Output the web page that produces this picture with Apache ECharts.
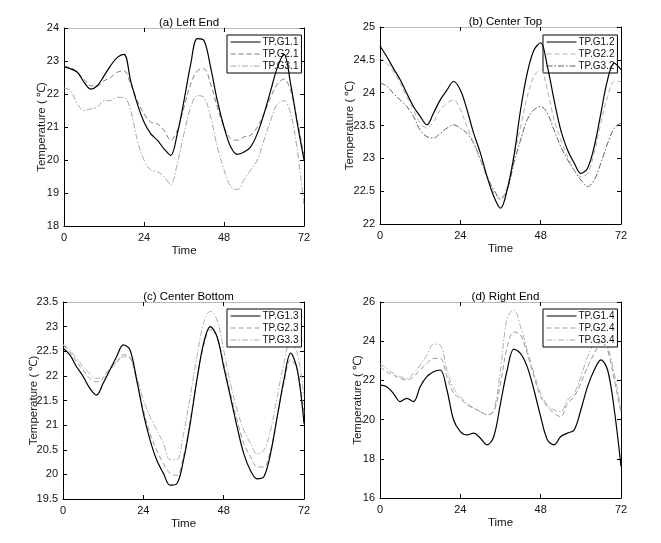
<!DOCTYPE html>
<html><head><meta charset="utf-8">
<script src="https://cdn.jsdelivr.net/npm/echarts@6/dist/echarts.min.js"></script>
<style>html,body{margin:0;padding:0;background:#fff}#c{width:661px;height:543px}</style>
</head><body><div id="c"></div><script>
// Time axis (hours)
const hours = [0,2,4,6,8,10,12,14,16,18,20,22,24,26,28,30,32,34,36,38,40,42,44,46,48,50,52,54,56,58,60,62,64,66,68,70,72];
const timeTicks = [0,24,48,72];

// (a) Left End
const tpG1_1 = [22.83,22.76,22.66,22.36,22.15,22.25,22.55,22.86,23.11,23.2,22.4,21.7,21.15,20.8,20.6,20.34,20.14,20.8,21.8,22.9,23.68,23.62,22.8,21.8,21.0,20.4,20.17,20.24,20.4,20.8,21.4,22.1,22.8,23.2,22.3,21.1,20.0];
const tpG2_1 = [22.83,22.8,22.66,22.45,22.25,22.25,22.4,22.5,22.66,22.7,22.3,21.8,21.4,21.15,21.1,20.9,20.6,20.9,21.6,22.3,22.7,22.76,22.3,21.6,21.0,20.65,20.6,20.7,20.75,21.0,21.4,21.9,22.3,22.45,22.1,21.2,20.1];
const tpG3_1 = [22.18,22.1,21.7,21.5,21.55,21.6,21.8,21.8,21.9,21.9,21.5,20.6,20.0,19.7,19.65,19.5,19.25,19.9,20.8,21.6,21.95,21.9,21.3,20.4,19.7,19.2,19.1,19.4,19.7,20.0,20.6,21.2,21.7,21.8,21.4,20.3,18.6];

// (b) Center Top
const tpG1_2 = [24.71,24.55,24.37,24.2,23.99,23.79,23.64,23.51,23.69,23.89,24.04,24.17,24.04,23.74,23.38,23.08,22.72,22.42,22.24,22.52,23.03,23.74,24.3,24.65,24.76,24.4,23.89,23.43,23.13,22.93,22.77,22.85,23.18,23.69,24.2,24.45,24.35];
const tpG2_2 = [24.53,24.45,24.32,24.15,23.94,23.74,23.54,23.46,23.56,23.74,23.84,23.89,23.74,23.48,23.23,22.98,22.72,22.47,22.37,22.57,23.03,23.48,23.94,24.25,24.35,24.04,23.59,23.28,23.03,22.82,22.72,22.77,23.08,23.54,23.94,24.17,24.17];
const tpG3_2 = [24.15,24.1,23.99,23.89,23.79,23.64,23.43,23.33,23.31,23.38,23.46,23.51,23.46,23.38,23.23,22.98,22.72,22.52,22.39,22.52,22.93,23.28,23.59,23.74,23.79,23.69,23.43,23.18,22.98,22.82,22.67,22.57,22.67,22.93,23.23,23.46,23.54];

// (c) Center Bottom
const tpG1_3 = [22.56,22.43,22.19,21.99,21.75,21.61,21.85,22.12,22.39,22.63,22.53,21.92,21.24,20.7,20.29,20.02,19.78,19.81,20.29,21.03,21.92,22.66,23.0,22.8,22.19,21.58,20.97,20.42,20.08,19.91,19.95,20.42,21.17,21.92,22.46,22.12,21.03];
const tpG2_3 = [22.63,22.49,22.29,22.12,21.95,21.88,21.95,22.12,22.26,22.43,22.38,21.92,21.31,20.83,20.49,20.22,20.02,19.98,20.36,21.1,21.92,22.6,22.94,22.8,22.26,21.65,21.1,20.63,20.36,20.15,20.15,20.49,21.17,21.85,22.33,22.12,21.24];
const tpG3_3 = [22.63,22.53,22.36,22.19,22.05,21.95,21.99,22.16,22.29,22.39,22.36,21.99,21.51,21.17,20.9,20.63,20.3,20.3,20.83,21.58,22.39,23.07,23.31,23.14,22.53,21.85,21.31,20.9,20.63,20.42,20.49,20.9,21.58,22.26,22.7,22.46,21.58];

// (d) Right End
const tpG1_4 = [21.76,21.68,21.34,20.92,21.08,20.92,21.68,22.19,22.44,22.53,21.51,19.98,19.39,19.22,19.31,19.05,18.71,19.14,20.83,22.53,23.6,23.37,22.69,21.51,20.15,18.97,18.71,19.14,19.31,19.47,20.49,21.68,22.53,23.05,22.53,20.49,17.61];
const tpG2_4 = [22.69,22.44,22.27,22.1,22.02,22.19,22.53,22.86,23.12,23.12,22.19,21.34,21.08,20.75,20.58,20.41,20.24,20.41,21.86,23.71,24.47,24.31,23.37,22.19,21.17,20.66,20.32,20.15,20.83,21.17,21.86,22.69,23.37,23.97,23.54,22.02,20.32];
const tpG3_4 = [22.86,22.61,22.36,22.19,22.1,22.36,22.78,23.29,23.85,23.8,22.53,21.59,21.17,20.83,20.58,20.41,20.24,20.49,22.53,25.2,25.6,24.73,23.54,22.36,21.34,20.75,20.49,20.41,21.0,21.34,22.19,23.2,23.88,24.3,23.71,22.36,20.49];

const panelTitles = ['(a) Left End','(b) Center Top','(c) Center Bottom','(d) Right End'];
const seriesNames = [['TP.G1.1','TP.G2.1','TP.G3.1'],['TP.G1.2','TP.G2.2','TP.G3.2'],['TP.G1.3','TP.G2.3','TP.G3.3'],['TP.G1.4','TP.G2.4','TP.G3.4']];
const seriesValues = [[tpG1_1,tpG2_1,tpG3_1],[tpG1_2,tpG2_2,tpG3_2],[tpG1_3,tpG2_3,tpG3_3],[tpG1_4,tpG2_4,tpG3_4]];
const yMin = [18,22,19.5,16], yMax = [24,25,23.5,26], yStep = [1,0.5,0.5,2];

const FONT = 'Liberation Sans, Arial, sans-serif';
const grids = [
  {left:64, top:28, width:240, height:198},
  {left:380, top:27, width:241, height:197},
  {left:63, top:302, width:241, height:197},
  {left:380, top:302, width:241, height:196}
];
const legendPos = [{left:227,top:35},{left:543,top:35},{left:227,top:309},{left:543,top:309}];
const yNameGap = [16,24,23,16];
const colG2 = ['#808080','#b0b0b0','#999999','#999999'];
const colG3 = ['#a8a8a8','#606060','#b0b0b0','#b0b0b0'];

const xAxes = [], yAxes = [], series = [], titles = [], legends = [];
grids.forEach((g,p)=>{
  titles.push({text:panelTitles[p], left:g.left+g.width/2, top:g.top-16, textAlign:'center',
    textStyle:{fontFamily:FONT,fontSize:11.5,fontWeight:'normal',color:'#000'}});
  const xb = {gridIndex:p, type:'value', min:0, max:72, interval:24, splitLine:{show:false}};
  xAxes.push(Object.assign({}, xb, {position:'bottom', name:'Time', nameLocation:'middle', nameGap:19,
    nameMoveOverlap:false,
    nameTextStyle:{fontFamily:FONT,fontSize:11.5,color:'#111'},
    axisLine:{onZero:false,lineStyle:{color:'#000',width:1}},
    axisTick:{inside:true,length:4,lineStyle:{color:'#000'}},
    axisLabel:{fontFamily:FONT,fontSize:11,color:'#111',margin:6}}));
  xAxes.push(Object.assign({}, xb, {position:'top',
    axisLine:{onZero:false,lineStyle:{color:'#aaa',width:1,type:'dotted'}},
    axisTick:{inside:true,length:4,lineStyle:{color:'#000'}}, axisLabel:{show:false}}));
  const yb = {gridIndex:p, type:'value', min:yMin[p], max:yMax[p], interval:yStep[p], splitLine:{show:false}};
  yAxes.push(Object.assign({}, yb, {position:'left', name:'Temperature ( ℃)', nameLocation:'middle', nameGap:yNameGap[p],
    nameMoveOverlap:false,
    nameTextStyle:{fontFamily:FONT,fontSize:11.5,color:'#2a2018'},
    axisLine:{onZero:false,lineStyle:{color:'#000',width:1}},
    axisTick:{inside:true,length:4,lineStyle:{color:'#000'}},
    axisLabel:{fontFamily:FONT,fontSize:11,color:'#111',margin:5}}));
  yAxes.push(Object.assign({}, yb, {position:'right',
    axisLine:{onZero:false,lineStyle:{color:'#000',width:1}},
    axisTick:{inside:true,length:4,lineStyle:{color:'#000'}}, axisLabel:{show:false}}));
  const styles = [
    {color:'#000', width:1.2, type:'solid'},
    {color:colG2[p], width:1, type:[5,3]},
    {color:colG3[p], width:1, type:[6,2,1.5,2]}
  ];
  seriesNames[p].forEach((nm,k)=>{
    series.push({name:nm, type:'line', xAxisIndex:p*2, yAxisIndex:p*2, symbol:'none', smooth:0.35,
      lineStyle:styles[k], itemStyle:{color:styles[k].color}, z:3-k+2,
      data:hours.map((h,i)=>[h, seriesValues[p][k][i]])});
  });
  legends.push({data:seriesNames[p], orient:'vertical', left:legendPos[p].left, top:legendPos[p].top,
    backgroundColor:'#fff', borderColor:'#000', borderWidth:1, borderRadius:0,
    padding:[2,3,2,3], itemGap:2, itemWidth:30, itemHeight:8, selectedMode:false,
    itemStyle:{opacity:0}, lineStyle:{width:1},
    textStyle:{fontFamily:FONT,fontSize:10,color:'#111',padding:[0,0,0,-3]}});
});

const chart = echarts.init(document.getElementById('c'));
chart.setOption({
  animation:false, backgroundColor:'#fff',
  title:titles, legend:legends, grid:grids, xAxis:xAxes, yAxis:yAxes, series:series
});
</script></body></html>
